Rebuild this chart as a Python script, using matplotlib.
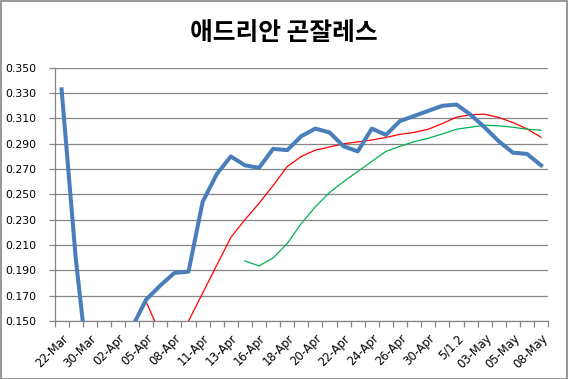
import numpy as np
import matplotlib
matplotlib.use("Agg")
import matplotlib.pyplot as plt
from matplotlib.patches import Rectangle

nan = np.nan

title = "애드리안 곤잘레스"

tick_labels = ["22-Mar", "30-Mar", "02-Apr", "05-Apr", "08-Apr", "11-Apr", "13-Apr",
               "16-Apr", "18-Apr", "20-Apr", "22-Apr", "24-Apr", "26-Apr", "30-Apr",
               "5/1.2", "03-May", "05-May", "08-May"]

# daily average (thick blue)
avg = [0.333, 0.200, 0.100, 0.095, 0.110, 0.145, 0.167, 0.178, 0.188, 0.189,
       0.244, 0.266, 0.280, 0.273, 0.271, 0.286, 0.285, 0.296, 0.302, 0.299,
       0.288, 0.284, 0.302, 0.297, 0.308, 0.312, 0.316, 0.320, 0.321, 0.313,
       0.303, 0.292, 0.283, 0.282, 0.273]

# red moving average
red = [nan, nan, nan, nan, nan, nan, 0.165, 0.140, 0.128, 0.150,
       0.172, 0.194, 0.216, 0.230, 0.243, 0.257, 0.272, 0.280, 0.285, 0.2875,
       0.290, 0.2915, 0.293, 0.295, 0.2975, 0.299, 0.3015, 0.306, 0.311, 0.313,
       0.3134, 0.3108, 0.3068, 0.3018, 0.2952]

# green moving average
green = [nan, nan, nan, nan, nan, nan, nan, nan, nan, nan,
         nan, nan, nan, 0.1975, 0.1935, 0.1998, 0.2112, 0.2271, 0.2403, 0.2515,
         0.2602, 0.2681, 0.2761, 0.284, 0.288, 0.2917, 0.2944, 0.2978, 0.3015, 0.3031,
         0.3047, 0.3042, 0.3031, 0.3015, 0.3007]

n = len(avg)
x = np.arange(n)

fig = plt.figure(figsize=(5.68, 3.79), dpi=100)
ax = fig.add_axes([0.096, 0.153, 0.869, 0.668])

grid_c = "#868686"
ax.set_ylim(0.150, 0.350)
ax.set_xlim(-0.5, n - 0.5)
yt = np.round(np.arange(0.150, 0.3501, 0.020), 3)
ax.set_yticks(yt)
ax.set_yticklabels([f"{v:.3f}" for v in yt], fontsize=7.8, family="DejaVu Sans")
for v in yt:
    ax.axhline(v, color=grid_c, lw=0.9, zorder=1)

ax.plot(x, red, color="#FF0000", lw=0.9, zorder=3)
ax.plot(x, green, color="#00B050", lw=0.9, zorder=3)
ax.plot(x, avg, color="#4A7EBB", lw=2.9, zorder=4, solid_joinstyle="round")

ax.set_xticks(x[::2])
ax.set_xticklabels(tick_labels, rotation=45, ha="right", rotation_mode="anchor",
                   fontsize=8.3, family="DejaVu Sans")
ax.set_xticks(np.arange(n + 1) - 0.5, minor=True)
ax.tick_params(axis="x", which="major", length=0, pad=8)
ax.tick_params(axis="x", which="minor", length=4, color=grid_c, width=0.9)
ax.tick_params(axis="y", length=4, color=grid_c, width=0.9, pad=9)

for s in ["top", "right"]:
    ax.spines[s].set_visible(False)
for s in ["left", "bottom"]:
    ax.spines[s].set_color(grid_c)
    ax.spines[s].set_linewidth(0.9)

fig.text(0.4995, 0.913, title, ha="center", va="center", fontsize=17.8,
         fontweight="bold", family=["Noto Sans CJK KR", "DejaVu Sans"])

fig.patches.append(Rectangle((0.001, 0.001), 0.997, 0.996, transform=fig.transFigure,
                             fill=False, edgecolor="#888888", lw=1.2))

fig.savefig("out.png", dpi=100)
